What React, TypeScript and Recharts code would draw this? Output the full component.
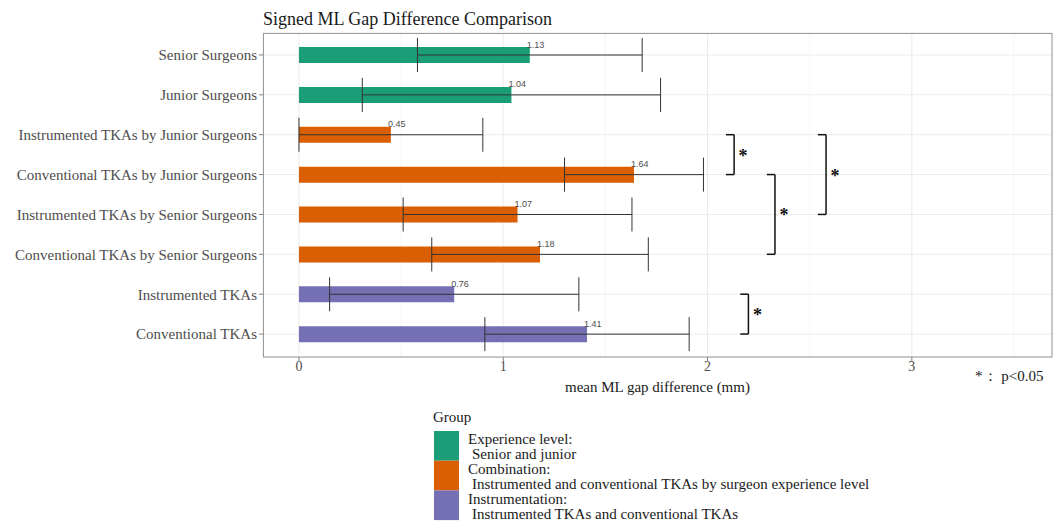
import React from 'react';
import { BarChart, Bar, XAxis, YAxis, CartesianGrid, ErrorBar, Cell, LabelList, ReferenceLine } from 'recharts';

const categories = [
  'Senior Surgeons',
  'Junior Surgeons',
  'Instrumented TKAs by Junior Surgeons',
  'Conventional TKAs by Junior Surgeons',
  'Instrumented TKAs by Senior Surgeons',
  'Conventional TKAs by Senior Surgeons',
  'Instrumented TKAs',
  'Conventional TKAs',
];
const means = [1.13, 1.04, 0.45, 1.64, 1.07, 1.18, 0.76, 1.41];
const errors = [0.55, 0.73, 0.45, 0.34, 0.56, 0.53, 0.61, 0.5];
const groupOf = [0, 0, 1, 1, 1, 1, 2, 2];
const groupColors = ['#1b9e77', '#d95f02', '#7570b3'];
const groupTitles = ['Experience level:', 'Combination:', 'Instrumentation:'];
const groupDescriptions = [
  'Senior and junior',
  'Instrumented and conventional TKAs by surgeon experience level',
  'Instrumented TKAs and conventional TKAs',
];
const xTicks = [0, 1, 2, 3];
const xMinorTicks = [0.5, 1.5, 2.5, 3.5];
const xDomain = [-0.176, 3.686];
const brackets = [
  { from: 2, to: 3, x: 2.13 },
  { from: 3, to: 5, x: 2.33 },
  { from: 2, to: 4, x: 2.58 },
  { from: 6, to: 7, x: 2.2 },
];
const bracketTick = 0.04;

const data = categories.map((name, i) => ({ name, mean: means[i], err: errors[i], group: groupOf[i] }));

const SERIF = '"Liberation Serif", "Times New Roman", serif';
const SANS = '"Liberation Sans", Arial, sans-serif';

const ValueLabel = (props: any) => {
  const { x, y, width, value } = props;
  return (
    <text x={x + width - 3} y={y + 0.5} fontSize={9} fontFamily={SANS} fill="#4d4d4d">
      {Number(value).toFixed(2)}
    </text>
  );
};

const StarLabel = (props: any) => {
  const vb = props.viewBox || {};
  const cx = (vb.x ?? 0) + 9;
  const cy = (vb.y ?? 0) + (vb.height ?? 0) / 2;
  return (
    <text x={cx} y={cy + 7} fontSize={18} fontFamily={SERIF} fontWeight="bold" fill="#111" textAnchor="middle">
      *
    </text>
  );
};

const minorGenerator = (args: any) => {
  try {
    const scale = args?.xAxis?.scale;
    if (typeof scale === 'function') return xMinorTicks.map((t) => scale(t));
    if (scale && typeof scale.map === 'function') return xMinorTicks.map((t) => scale.map(t));
  } catch (e) {
    // ignore
  }
  return [];
};

export default function App() {
  return (
    <div style={{ position: 'absolute', left: 0, top: 0, width: 1055, height: 524, background: '#fff' }}>
      <BarChart
        width={1055}
        height={524}
        data={data}
        layout="vertical"
        margin={{ top: 33, right: 3, bottom: 0, left: 0 }}
      >
        <CartesianGrid
          horizontal={false}
          stroke="#f3f3f3"
          strokeWidth={0.8}
          verticalCoordinatesGenerator={minorGenerator}
        />
        <CartesianGrid stroke="#ebebeb" strokeWidth={1} />
        <XAxis
          type="number"
          domain={xDomain}
          ticks={xTicks}
          allowDataOverflow
          height={167}
          axisLine={false}
          tickLine={{ stroke: '#7f7f7f' }}
          tickSize={4}
          tickMargin={0}
          tick={{ fill: '#4d4d4d', fontSize: 14, fontFamily: SERIF }}
          label={(p: any) => (
            <text
              x={p.viewBox.x + p.viewBox.width / 2}
              y={p.viewBox.y + 35}
              textAnchor="middle"
              fontSize={15}
              fontFamily={SERIF}
              fill="#1a1a1a"
            >
              mean ML gap difference (mm)
            </text>
          )}
        />
        <YAxis
          type="category"
          dataKey="name"
          width={263}
          padding={{ top: 2, bottom: 3 }}
          axisLine={false}
          tickLine={{ stroke: '#7f7f7f' }}
          tickSize={4}
          tickMargin={2}
          interval={0}
          tick={{ fill: '#4d4d4d', fontSize: 15, fontFamily: SERIF }}
        />
        <Bar dataKey="mean" barSize={16} isAnimationActive={false}>
          {data.map((d, i) => (
            <Cell key={i} fill={groupColors[d.group]} />
          ))}
          <ErrorBar dataKey="err" direction="x" width={17} stroke="#333" strokeWidth={1} isAnimationActive={false} />
          <LabelList dataKey="mean" content={ValueLabel} />
        </Bar>
        {brackets.map((b, i) => (
          <ReferenceLine
            key={'bv' + i}
            segment={[
              { x: b.x, y: categories[b.from] },
              { x: b.x, y: categories[b.to] },
            ]}
            stroke="#111"
            strokeWidth={1.5}
            ifOverflow="visible"
            label={(p: any) => <StarLabel {...p} />}
          />
        ))}
        {brackets.map((b, i) => (
          <ReferenceLine
            key={'bt' + i}
            segment={[
              { x: b.x - bracketTick, y: categories[b.from] },
              { x: b.x, y: categories[b.from] },
            ]}
            stroke="#111"
            strokeWidth={1.5}
            ifOverflow="visible"
          />
        ))}
        {brackets.map((b, i) => (
          <ReferenceLine
            key={'bb' + i}
            segment={[
              { x: b.x - bracketTick, y: categories[b.to] },
              { x: b.x, y: categories[b.to] },
            ]}
            stroke="#111"
            strokeWidth={1.5}
            ifOverflow="visible"
          />
        ))}
      </BarChart>
      <svg
        width={1055}
        height={524}
        style={{ position: 'absolute', left: 0, top: 0, pointerEvents: 'none' }}
      >
        <rect x={263.5} y={33.5} width={788.5} height={323.5} fill="none" stroke="#9a9a9a" strokeWidth={1} />
        <text x={263} y={25} fontSize={18} fontFamily={SERIF} fill="#1a1a1a">
          Signed ML Gap Difference Comparison
        </text>
        <text x={975} y={381} fontSize={15} fontFamily={SERIF} fill="#1a1a1a" style={{ whiteSpace: 'pre' }}>
          {'*： p<0.05'}
        </text>
        <text x={433} y={422} fontSize={15} fontFamily={SERIF} fill="#1a1a1a">
          Group
        </text>
        {groupColors.map((c, i) => (
          <g key={'lg' + i}>
            <rect x={434} y={431 + i * 29.7} width={25} height={29.7} fill={c} />
            <text x={468} y={444 + i * 30} fontSize={15} fontFamily={SERIF} fill="#1a1a1a">
              {groupTitles[i]}
            </text>
            <text x={472} y={459 + i * 30} fontSize={15} fontFamily={SERIF} fill="#1a1a1a">
              {groupDescriptions[i]}
            </text>
          </g>
        ))}
      </svg>
    </div>
  );
}
